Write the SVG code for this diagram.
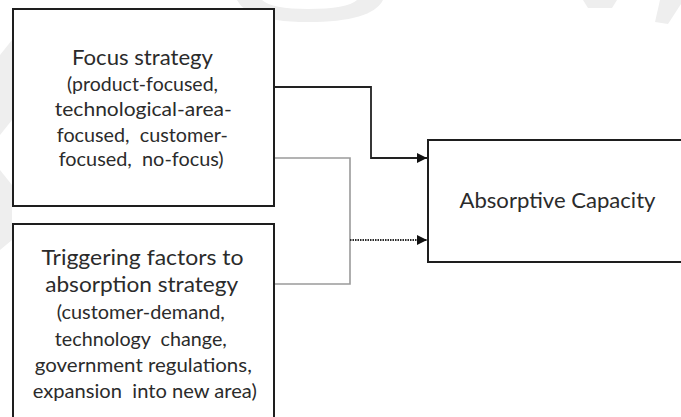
<svg xmlns="http://www.w3.org/2000/svg" width="681" height="417" viewBox="0 0 681 417">
  <style>
    .box { fill: #ffffff; stroke: #1e1e1e; stroke-width: 2; }
    .title { font-family: Lato, "Liberation Sans", sans-serif; font-size: 22px; fill: #2b2b2b; text-anchor: middle; white-space: pre; }
    .sub { font-family: Lato, "Liberation Sans", sans-serif; font-size: 20px; fill: #2b2b2b; text-anchor: middle; white-space: pre; }
    .link { fill: none; stroke: #222222; stroke-width: 1.8; }
    .link-grey { fill: none; stroke: #9a9a9a; stroke-width: 1.6; }
    .link-dotted { fill: none; stroke: #2a2a2a; stroke-width: 2; stroke-dasharray: 1.5 1; }
    .wm { fill: #eeeeee; }
  </style>
  <defs>
    <marker id="arrow" viewBox="0 0 10 10" refX="10" refY="5" markerWidth="11" markerHeight="10" markerUnits="userSpaceOnUse" orient="auto">
      <path d="M0,0 L10,5 L0,10 Z" fill="#111111"/>
    </marker>
  </defs>

  <rect width="681" height="417" fill="#ffffff"/>

  <!-- faint background marks -->
  <g id="background-marks">
    <path class="wm" d="M237,0 L262,0 Q272,9 308,9 Q347,9 357,0 L383,0 Q372,22 308,22 Q248,22 237,0 Z"/>
    <path class="wm" d="M583,0 L617,0 L612,8 L588,8 Z"/>
    <path class="wm" d="M660,0 L681,0 L681,4 L668,24 L655,22 Z"/>
    <path class="wm" d="M0,55 L12,40 L12,120 L0,135 Z"/>
    <path class="wm" d="M0,170 L12,185 L12,240 L0,250 Z"/>
  </g>

  <!-- connectors -->
  <g id="connectors">
    <path class="link" d="M274,87 H371 V158 H427" marker-end="url(#arrow)"/>
    <path class="link-grey" d="M274,158 H350 V284 H274"/>
    <path class="link-dotted" d="M350,240 H427" marker-end="url(#arrow)"/>
  </g>

  <g id="focus-strategy">
    <rect class="box" x="13" y="9" width="261" height="197"/>
    <text class="title" x="142.5" y="65" textLength="141" lengthAdjust="spacingAndGlyphs">Focus strategy</text>
    <text class="sub" x="142.5" y="90.5" textLength="151" lengthAdjust="spacingAndGlyphs">(product-focused,</text>
    <text class="sub" x="143.3" y="116" textLength="177" lengthAdjust="spacingAndGlyphs">technological-area-</text>
    <text class="sub" x="142.3" y="141.5" textLength="171" lengthAdjust="spacingAndGlyphs">focused,  customer-</text>
    <text class="sub" x="141.2" y="166" textLength="165" lengthAdjust="spacingAndGlyphs">focused,  no-focus)</text>
  </g>

  <g id="triggering-factors">
    <rect class="box" x="13" y="224" width="261" height="210"/>
    <text class="title" x="142.5" y="265" textLength="202" lengthAdjust="spacingAndGlyphs">Triggering factors to</text>
    <text class="title" x="141.7" y="291.5" textLength="193" lengthAdjust="spacingAndGlyphs">absorption strategy</text>
    <text class="sub" x="140.8" y="319" textLength="168" lengthAdjust="spacingAndGlyphs">(customer-demand,</text>
    <text class="sub" x="140.8" y="345.5" textLength="172" lengthAdjust="spacingAndGlyphs">technology  change,</text>
    <text class="sub" x="143.3" y="372" textLength="217" lengthAdjust="spacingAndGlyphs">government regulations,</text>
    <text class="sub" x="144.8" y="398" textLength="224" lengthAdjust="spacingAndGlyphs">expansion  into new area)</text>
  </g>

  <g id="absorptive-capacity">
    <rect class="box" x="428" y="140" width="270" height="122"/>
    <text class="title" x="557.5" y="207.5" textLength="196" lengthAdjust="spacingAndGlyphs">Absorptive Capacity</text>
  </g>
</svg>
